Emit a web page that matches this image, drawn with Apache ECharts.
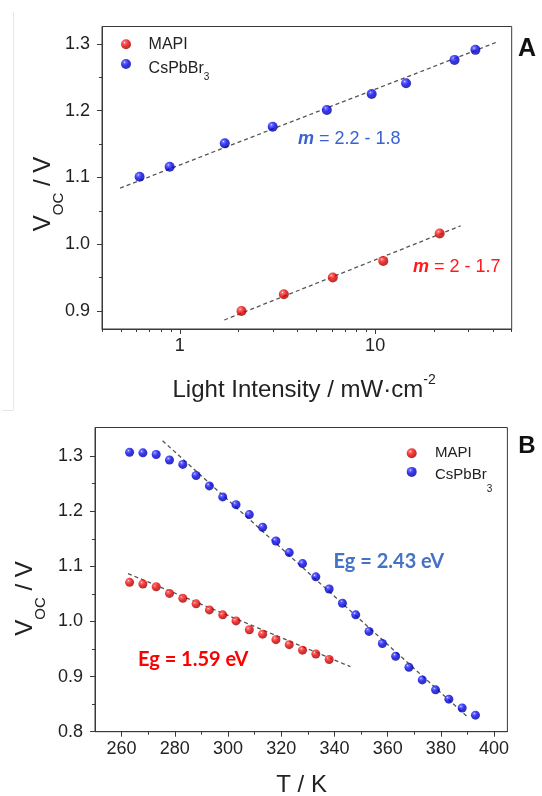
<!DOCTYPE html>
<html><head><meta charset="utf-8">
<script src="https://cdn.jsdelivr.net/npm/echarts@6/dist/echarts.min.js"></script>
<style>html,body{margin:0;padding:0;background:#fff}#c{width:542px;height:796px}</style>
</head><body><div id="c"></div>
<script>
// ---------- Panel A : Voc vs light intensity ----------
const aMapiX = [2.07, 3.41, 6.07, 11.0, 21.4];
const aMapiY = [0.900, 0.925, 0.950, 0.975, 1.016];
const aCsX = [0.623, 0.888, 1.70, 2.99, 5.66, 9.6, 14.4, 25.5, 32.6];
const aCsY = [1.101, 1.116, 1.151, 1.176, 1.201, 1.225, 1.241, 1.276, 1.291];
const aFitCsX = [0.495, 42.3];
const aFitCsY = [1.084, 1.303];
const aFitMaX = [1.69, 27.4];
const aFitMaY = [0.8865, 1.0275];
const aXTicks = [1, 10];
const aXMinor = [0.4, 0.5, 0.6, 0.7, 0.8, 0.9, 2, 3, 4, 5, 6, 7, 8, 9, 20, 30, 40, 50];
const aYTicks = [0.9, 1.0, 1.1, 1.2, 1.3];
const aYMinor = [0.95, 1.05, 1.15, 1.25];
// ---------- Panel B : Voc vs temperature ----------
const bMapiT = [263, 268, 273, 278, 283, 288, 293, 298, 303, 308, 313, 318, 323, 328, 333, 338];
const bMapiY = [1.071, 1.068, 1.063, 1.051, 1.042, 1.032, 1.021, 1.012, 1.001, 0.985, 0.977, 0.967, 0.958, 0.948, 0.941, 0.931];
const bCsT = [263, 268, 273, 278, 283, 288, 293, 298, 303, 308, 313, 318, 323, 328, 333, 338, 343, 348, 353, 358, 363, 368, 373, 378, 383, 388, 393];
const bCsY = [1.307, 1.306, 1.303, 1.293, 1.285, 1.265, 1.246, 1.226, 1.212, 1.194, 1.171, 1.146, 1.125, 1.105, 1.081, 1.059, 1.033, 1.012, 0.982, 0.960, 0.937, 0.917, 0.894, 0.876, 0.859, 0.843, 0.830];
const bFitCsT = [275.4, 390];
const bFitCsY = [1.328, 0.827];
const bFitMaT = [262.4, 346];
const bFitMaY = [1.087, 0.918];
const bXTicks = [260, 280, 300, 320, 340, 360, 380, 400];
const bXMinor = [270, 290, 310, 330, 350, 370, 390];
const bYTicks = [0.8, 0.9, 1.0, 1.1, 1.2, 1.3];
const bYMinor = [0.85, 0.95, 1.05, 1.15, 1.25];

const FONT = "'Liberation Sans', Arial, sans-serif";
const AX = '#3a3a3a';
const zip = (xs, ys) => xs.map((x, i) => [x, ys[i]]);
function sphere(c1, c2, c3) {
  return {type: 'radial', x: 0.36, y: 0.32, r: 0.72, colorStops: [
    {offset: 0, color: '#ffffff'}, {offset: 0.13, color: c1}, {offset: 0.5, color: c2}, {offset: 1, color: c3}]};
}
const RED = sphere('#ff5050', '#ee0000', '#8a0000');
const BLUE = sphere('#5050ff', '#0000ee', '#00008a');

function mainAxis(grid, type, min, max, ticks, fmt, isY, extra) {
  return Object.assign({
    gridIndex: grid, type: type, min: min, max: max,
    position: isY ? 'left' : 'bottom',
    axisLine: {show: true, onZero: false, lineStyle: {color: AX, width: 1}},
    axisTick: {show: true, inside: false, length: 5, customValues: ticks, lineStyle: {color: AX, width: 1}},
    axisLabel: {show: true, customValues: ticks, fontSize: 18, color: '#222', fontFamily: FONT,
      margin: isY ? 12 : 8, formatter: fmt},
    splitLine: {show: false}, minorTick: {show: false}
  }, extra || {});
}
function minorAxis(grid, type, min, max, ticks, isY) {
  return {
    gridIndex: grid, type: type, min: min, max: max,
    position: isY ? 'left' : 'bottom',
    axisLine: {show: false, onZero: false},
    axisTick: {show: true, inside: false, length: 3, customValues: ticks, lineStyle: {color: AX, width: 1}},
    axisLabel: {show: false}, splitLine: {show: false}
  };
}
const f1 = v => Number(v).toFixed(1);
const f0 = v => String(Math.round(v));

const chart = echarts.init(document.getElementById('c'), null, {renderer: 'canvas'});
const fitStyle = {color: '#555', width: 1.3, type: [4, 3]};

function legendCfg(left, top, gap, fs, a, p, padL) {
  return {
    left: left, top: top, orient: 'vertical', padding: 0, itemGap: gap,
    itemWidth: 10, itemHeight: 10, icon: 'circle', selectedMode: false,
    data: ['MAPI', 'CsPbBr3'],
    formatter: n => n === 'CsPbBr3' ? '{m|CsPbBr}{s|3}' : n,
    textStyle: {fontSize: fs, color: '#222', fontFamily: FONT, padding: [0, 0, 0, padL],
      rich: {
        m: {fontSize: fs, lineHeight: fs, fontFamily: FONT, color: '#222', verticalAlign: 'top', padding: [a, 0, 0, 0]},
        s: {fontSize: 10, lineHeight: 10, fontFamily: FONT, color: '#222', verticalAlign: 'top', padding: [p, 0, 0, 0]}
      }}
  };
}

const option = {
  animation: false,
  backgroundColor: '#fff',
  grid: [
    {left: 102, top: 26.5, width: 409.7, height: 302.5, show: true, borderColor: AX, borderWidth: 1, backgroundColor: 'transparent'},
    {left: 95, top: 427.5, width: 412.4, height: 304.2, show: true, borderColor: AX, borderWidth: 1, backgroundColor: 'transparent'}
  ],
  xAxis: [
    mainAxis(0, 'log', 0.4, 50, aXTicks, f0, false, {logBase: 10}),
    Object.assign(minorAxis(0, 'log', 0.4, 50, aXMinor, false), {logBase: 10}),
    mainAxis(1, 'value', 250, 405, bXTicks, f0, false),
    minorAxis(1, 'value', 250, 405, bXMinor, false)
  ],
  yAxis: [
    mainAxis(0, 'value', 0.873, 1.326, aYTicks, f1, true),
    minorAxis(0, 'value', 0.873, 1.326, aYMinor, true),
    mainAxis(1, 'value', 0.8, 1.352, bYTicks, f1, true),
    minorAxis(1, 'value', 0.8, 1.352, bYMinor, true)
  ],
  legend: [
    legendCfg(121, 36.3, 3.7, 16, 5, 16, 12.6),
    legendCfg(406.7, 445.8, 3.6, 15, 3, 19.5, 13.3)
  ],
  series: [
    {name: 'fitA1', type: 'line', xAxisIndex: 0, yAxisIndex: 0, data: zip(aFitCsX, aFitCsY), symbol: 'none', lineStyle: fitStyle, z: 2, silent: true},
    {name: 'fitA2', type: 'line', xAxisIndex: 0, yAxisIndex: 0, data: zip(aFitMaX, aFitMaY), symbol: 'none', lineStyle: fitStyle, z: 2, silent: true},
    {name: 'fitB1', type: 'line', xAxisIndex: 2, yAxisIndex: 2, data: zip(bFitCsT, bFitCsY), symbol: 'none', lineStyle: fitStyle, z: 2, silent: true},
    {name: 'fitB2', type: 'line', xAxisIndex: 2, yAxisIndex: 2, data: zip(bFitMaT, bFitMaY), symbol: 'none', lineStyle: fitStyle, z: 2, silent: true},
    {name: 'MAPI', type: 'scatter', xAxisIndex: 0, yAxisIndex: 0, data: zip(aMapiX, aMapiY), symbol: 'circle', symbolSize: 10, itemStyle: {color: RED}, z: 4},
    {name: 'CsPbBr3', type: 'scatter', xAxisIndex: 0, yAxisIndex: 0, data: zip(aCsX, aCsY), symbol: 'circle', symbolSize: 10, itemStyle: {color: BLUE}, z: 4},
    {name: 'MAPI', type: 'scatter', xAxisIndex: 2, yAxisIndex: 2, data: zip(bMapiT, bMapiY), symbol: 'circle', symbolSize: 9, itemStyle: {color: RED}, z: 4},
    {name: 'CsPbBr3', type: 'scatter', xAxisIndex: 2, yAxisIndex: 2, data: zip(bCsT, bCsY), symbol: 'circle', symbolSize: 9, itemStyle: {color: BLUE}, z: 4}
  ],
  graphic: [
    {type: 'line', shape: {x1: 13.5, y1: 12, x2: 13.5, y2: 410}, style: {stroke: '#e6e6e6', lineWidth: 1}, silent: true},
    {type: 'line', shape: {x1: 2, y1: 410.5, x2: 13.5, y2: 410.5}, style: {stroke: '#e6e6e6', lineWidth: 1}, silent: true},
    {type: 'text', x: 527, y: 49, style: {text: 'A', font: "bold 25px " + FONT, fill: '#111', align: 'center', verticalAlign: 'middle'}},
    {type: 'text', x: 527, y: 446.5, style: {text: 'B', font: "bold 24px " + FONT, fill: '#111', align: 'center', verticalAlign: 'middle'}},
    {type: 'text', x: 43, y: 194, rotation: Math.PI / 2, style: {text: '{n|V}{c|OC}{n| / V}', align: 'center', verticalAlign: 'middle', fill: '#222',
      rich: {n: {fontSize: 24, fontFamily: FONT, fill: '#222', verticalAlign: 'top', lineHeight: 24},
             c: {fontSize: 15, fontFamily: FONT, fill: '#222', verticalAlign: 'top', lineHeight: 15, padding: [20, 0, 0, 0]}}}},
    {type: 'text', x: 172.5, y: 385, style: {text: '{n|Light Intensity / mW·cm}{p|-2}', align: 'left', verticalAlign: 'middle', fill: '#222',
      rich: {n: {fontSize: 24, fontFamily: FONT, fill: '#222', verticalAlign: 'top', lineHeight: 24, padding: [5, 0, 0, 0]},
             p: {fontSize: 14, fontFamily: FONT, fill: '#222', verticalAlign: 'top', lineHeight: 14}}}},
    {type: 'text', x: 25.5, y: 598.5, rotation: Math.PI / 2, style: {text: '{n|V}{c|OC}{n| / V}', align: 'center', verticalAlign: 'middle', fill: '#222',
      rich: {n: {fontSize: 24, fontFamily: FONT, fill: '#222', verticalAlign: 'top', lineHeight: 24},
             c: {fontSize: 15, fontFamily: FONT, fill: '#222', verticalAlign: 'top', lineHeight: 15, padding: [20, 0, 0, 0]}}}},
    {type: 'text', x: 301.6, y: 785, style: {text: 'T / K', font: "24px " + FONT, fill: '#222', align: 'center', verticalAlign: 'middle'}},
    {type: 'text', x: 298, y: 139, style: {text: '{b|m}{t| = 2.2 - 1.8}', align: 'left', verticalAlign: 'middle',
      rich: {b: {fontSize: 18, fontFamily: FONT, fontWeight: 'bold', fontStyle: 'italic', fill: '#3a62d0'},
             t: {fontSize: 18, fontFamily: FONT, fill: '#3a62d0'}}}},
    {type: 'text', x: 413, y: 267, style: {text: '{b|m}{t| = 2 - 1.7}', align: 'left', verticalAlign: 'middle',
      rich: {b: {fontSize: 18, fontFamily: FONT, fontWeight: 'bold', fontStyle: 'italic', fill: '#ff1a1a'},
             t: {fontSize: 18, fontFamily: FONT, fill: '#ff1a1a'}}}},
    {type: 'text', x: 333.6, y: 562, style: {text: 'Eg = 2.43 eV', font: "bold 20px Lato, 'Open Sans', sans-serif", fill: '#4472c4', align: 'left', verticalAlign: 'middle'}},
    {type: 'text', x: 138, y: 659.5, style: {text: 'Eg = 1.59 eV', font: "bold 20px Lato, 'Open Sans', sans-serif", fill: '#ff0000', align: 'left', verticalAlign: 'middle'}}
  ]
};
chart.setOption(option);
</script>
</body></html>
